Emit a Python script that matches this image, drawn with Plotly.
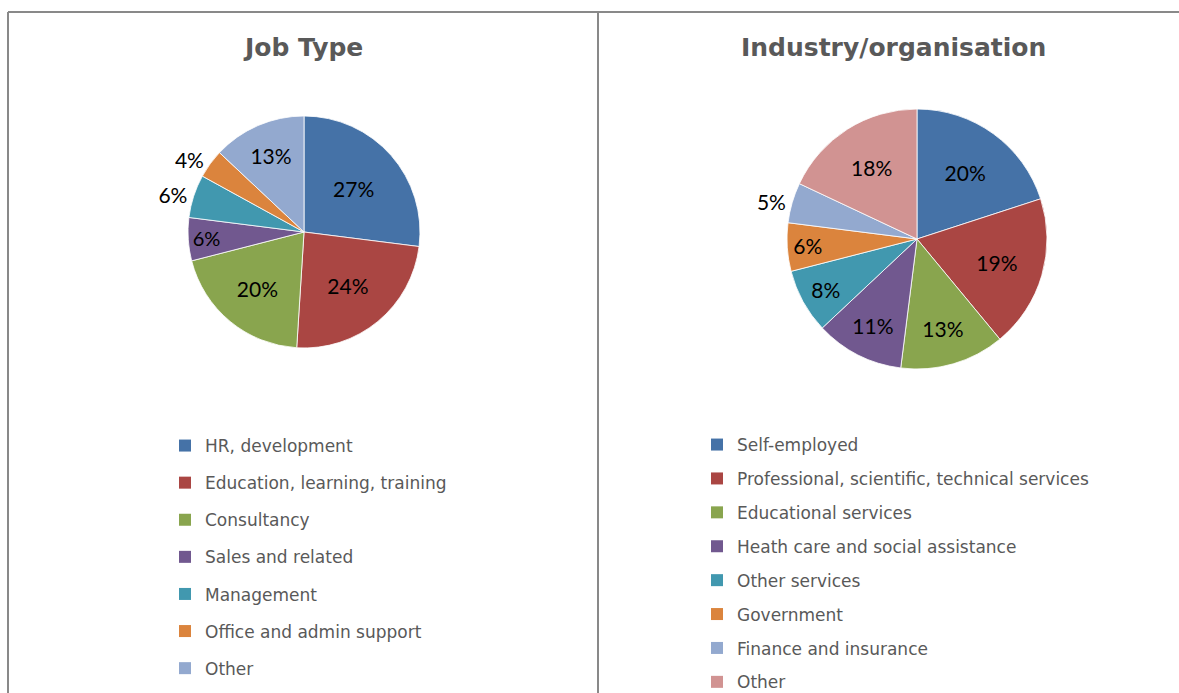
import plotly.graph_objects as go

# Survey breakdowns (percent of respondents)
job_types = ["HR, development", "Education, learning, training", "Consultancy",
             "Sales and related", "Management", "Office and admin support", "Other"]
job_values = [27, 24, 20, 6, 6, 4, 13]
job_text_pos = ["inside", "inside", "inside", "inside", "outside", "outside", "inside"]

industries = ["Self-employed", "Professional, scientific, technical services",
              "Educational services", "Heath care and social assistance",
              "Other services", "Government", "Finance and insurance", "Other"]
industry_values = [20, 19, 13, 11, 8, 6, 5, 18]
industry_text_pos = ["inside"] * 6 + ["outside", "inside"]

palette = ["#4572A7", "#AA4643", "#89A54E", "#71588F",
           "#4198AF", "#DB843D", "#93A9CF", "#D19392"]

W, H = 1179, 693
GRID = "#898989"
TEXT_GRAY = "#595959"
LABEL_FONT = dict(family="Lato, Open Sans, sans-serif", size=21, color="black")
LEGEND_FONT = dict(family="DejaVu Sans, Verdana, sans-serif", size=17, color=TEXT_GRAY)


def px_x(v):
    return v / W


def px_y(v):
    return 1 - v / H


def pie_domain(cx, cy, r):
    return dict(x=[px_x(cx - r), px_x(cx + r)], y=[px_y(cy + r), px_y(cy - r)])


fig = go.Figure()

fig.add_trace(go.Pie(
    labels=job_types, values=job_values, sort=False, direction="clockwise",
    rotation=0, domain=pie_domain(304, 232, 116),
    marker=dict(colors=palette[:len(job_values)], line=dict(color="white", width=0.8)),
    texttemplate="%{value}%", textposition=job_text_pos,
    insidetextorientation="horizontal",
    insidetextfont=LABEL_FONT, outsidetextfont=LABEL_FONT,
    showlegend=False, hoverinfo="label+percent",
))

fig.add_trace(go.Pie(
    labels=industries, values=industry_values, sort=False, direction="clockwise",
    rotation=0, domain=pie_domain(917, 239, 130),
    marker=dict(colors=palette[:len(industry_values)], line=dict(color="white", width=0.8)),
    texttemplate="%{value}%", textposition=industry_text_pos,
    insidetextorientation="horizontal",
    insidetextfont=LABEL_FONT, outsidetextfont=LABEL_FONT,
    showlegend=False, hoverinfo="label+percent",
))

# Legend entries: one square swatch per category, each in its own group
for i, name in enumerate(job_types):
    fig.add_trace(go.Scatter(
        x=[None], y=[None], mode="markers", name=name,
        marker=dict(symbol="square", size=12, color=palette[i]),
        legend="legend", legendgroup=f"job{i}", showlegend=True,
    ))
for i, name in enumerate(industries):
    fig.add_trace(go.Scatter(
        x=[None], y=[None], mode="markers", name=name,
        marker=dict(symbol="square", size=12, color=palette[i]),
        legend="legend2", legendgroup=f"ind{i}", showlegend=True,
    ))

# Panel frames
frame = dict(type="line", xref="paper", yref="paper", line=dict(color=GRID, width=2))
shapes = [
    dict(frame, x0=px_x(8), x1=1.0, y0=px_y(12), y1=px_y(12)),
    dict(frame, x0=px_x(8), x1=px_x(8), y0=px_y(12), y1=0),
    dict(frame, x0=px_x(598), x1=px_x(598), y0=px_y(12), y1=0),
]

title_font = dict(family="DejaVu Sans, Verdana, sans-serif", size=25, color=TEXT_GRAY)
annotations = [
    dict(text="<b>Job Type</b>", x=px_x(303), y=px_y(48), xref="paper", yref="paper",
         showarrow=False, font=title_font, xanchor="center", yanchor="middle"),
    dict(text="<b>Industry/organisation</b>", x=px_x(893), y=px_y(48), xref="paper",
         yref="paper", showarrow=False, font=title_font, xanchor="center", yanchor="middle"),
]

fig.update_layout(
    width=W, height=H, margin=dict(l=0, r=0, t=0, b=0, autoexpand=False),
    paper_bgcolor="white", plot_bgcolor="white",
    xaxis=dict(visible=False), yaxis=dict(visible=False),
    shapes=shapes, annotations=annotations,
    legend=dict(x=px_x(165), y=px_y(428), xanchor="left", yanchor="top",
                font=LEGEND_FONT, tracegroupgap=12, bgcolor="rgba(0,0,0,0)",
                itemclick=False, itemdoubleclick=False),
    legend2=dict(x=px_x(697), y=px_y(427), xanchor="left", yanchor="top",
                 font=LEGEND_FONT, tracegroupgap=8.8, bgcolor="rgba(0,0,0,0)",
                 itemclick=False, itemdoubleclick=False),
)

fig.write_html("out.html")
